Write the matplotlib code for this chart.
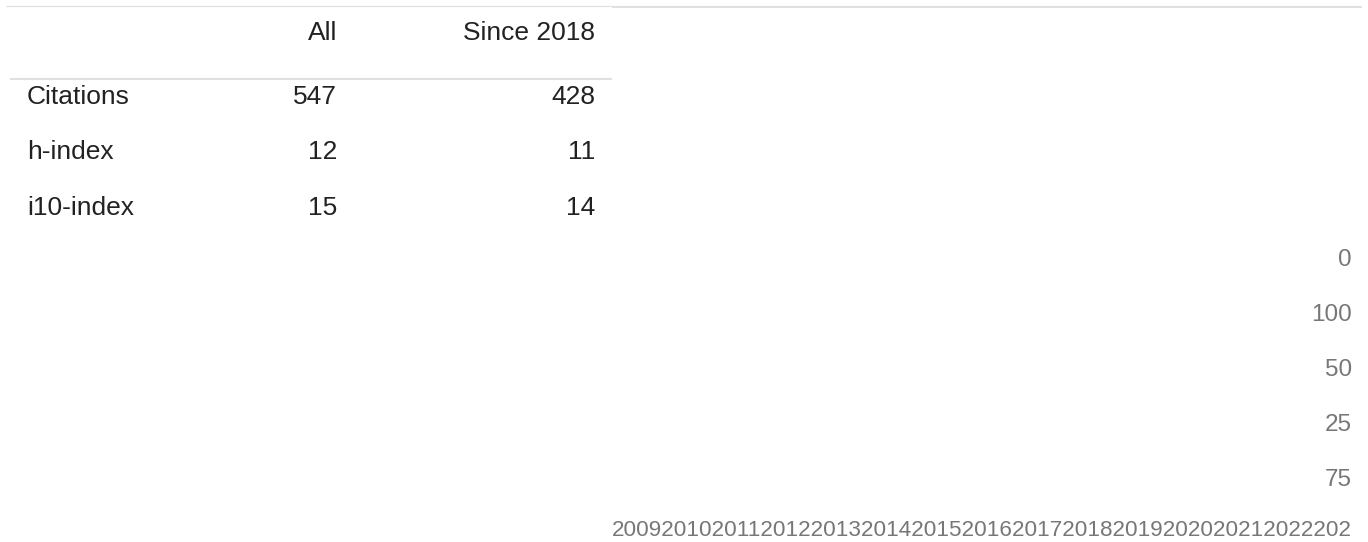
import matplotlib
matplotlib.use("Agg")
import matplotlib.pyplot as plt

plt.rcParams['font.family'] = ['Liberation Sans', 'DejaVu Sans']

# table data
col_headers = ["All", "Since 2018"]
row_labels = ["Citations", "h-index", "i10-index"]
all_vals = [547, 12, 15]
since_vals = [428, 11, 14]

# chart leftovers: tick labels as rendered (broken layout)
axis_labels = ["0", "100", "50", "25", "75"]
years = ["2009", "2010", "2011", "2012", "2013", "2014", "2015",
         "2016", "2017", "2018", "2019", "2020", "2021", "2022", "202"]

W, H = 1368, 542
fig = plt.figure(figsize=(W / 100, H / 100), dpi=100)
ax = fig.add_axes([0, 0, 1, 1])
ax.set_xlim(0, W)
ax.set_ylim(H, 0)
ax.axis("off")

dark = "#222222"
grey = "#777777"
line_col = "#e0e0e0"
fs_table = 19
fs_lab = 17.5
fs_years = 16.2

# table rules
ax.plot([6, 612], [6, 6], color=line_col, lw=0.9, solid_capstyle="butt")
ax.plot([612, 1362], [7, 7], color=line_col, lw=1.5, solid_capstyle="butt")
ax.plot([10, 612], [79, 79], color=line_col, lw=1.5, solid_capstyle="butt")

# header
col_x = [337, 595]
for x, h in zip(col_x, col_headers):
    ax.text(x, 33, h, ha="right", va="center", fontsize=fs_table, color=dark)

row_y = [97, 152, 208]
for y, lab, a, s in zip(row_y, row_labels, all_vals, since_vals):
    ax.text(27, y, lab, ha="left", va="center", fontsize=fs_table, color=dark)
    ax.text(col_x[0], y, str(a), ha="right", va="center", fontsize=fs_table, color=dark)
    ax.text(col_x[1], y, str(s), ha="right", va="center", fontsize=fs_table, color=dark)

# stray axis labels on the right
lab_y = [260, 315, 370, 425, 480]
for y, lab in zip(lab_y, axis_labels):
    ax.text(1352, y, lab, ha="right", va="center", fontsize=fs_lab, color=grey)

ax.text(1352, 530, "".join(years), ha="right", va="center", fontsize=fs_years, color=grey)

fig.savefig("out.png", dpi=100)
